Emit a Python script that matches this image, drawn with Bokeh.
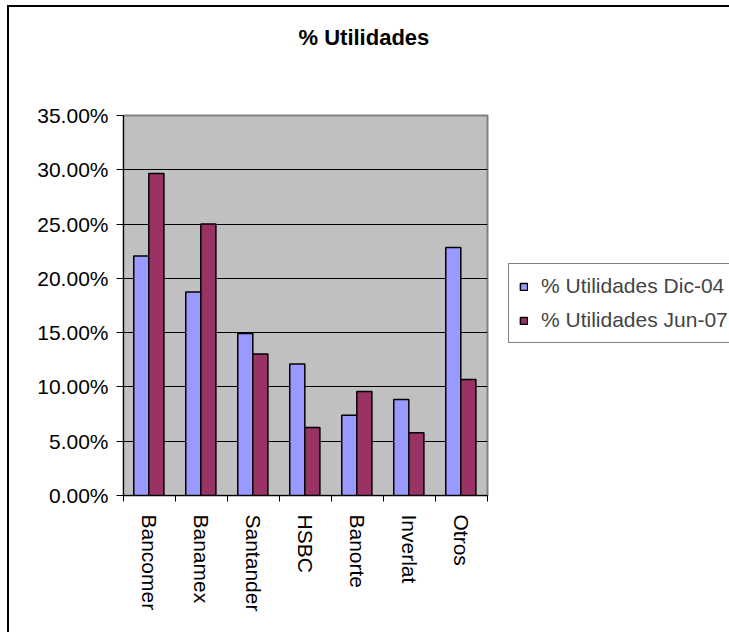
import numpy as np
from bokeh.plotting import figure
from bokeh.models import (Range1d, FixedTicker, NumeralTickFormatter, Legend,
                          LegendItem, ColumnDataSource)
from bokeh.embed import file_html
from bokeh.resources import INLINE

# ---- data ----
categories = ["Bancomer", "Banamex", "Santander", "HSBC", "Banorte", "Inverlat", "Otros"]
dic04 = [0.2207, 0.1875, 0.1492, 0.1212, 0.0740, 0.0884, 0.2284]
jun07 = [0.2966, 0.2500, 0.1304, 0.0626, 0.0958, 0.0577, 0.1068]
series_names = ["% Utilidades Dic-04", "% Utilidades Jun-07"]
y_ticks = [0.0, 0.05, 0.10, 0.15, 0.20, 0.25, 0.30, 0.35]
title_text = "% Utilidades"

FONT = "Liberation Sans"
idx = np.arange(len(categories))
bar_w = 0.29

src1 = ColumnDataSource(dict(x=idx - 0.158, top=dic04))
src2 = ColumnDataSource(dict(x=idx + 0.132, top=jun07))

p = figure(frame_width=364, frame_height=380,
           min_border_left=114, min_border_right=242,
           min_border_top=108, min_border_bottom=137,
           x_range=Range1d(-0.5, len(categories) - 0.5),
           y_range=Range1d(0, 0.35),
           output_backend="svg", toolbar_location=None,
           background_fill_color="#C0C0C0", border_fill_color="white")
p.styles = {"margin-left": "7px", "margin-top": "5px",
            "border-left": "2px solid black", "border-top": "2px solid black"}

r1 = p.vbar(x="x", top="top", width=bar_w, bottom=0, source=src1,
            fill_color="#9999FF", line_color="black", line_width=1.5)
r2 = p.vbar(x="x", top="top", width=bar_w, bottom=0, source=src2,
            fill_color="#993366", line_color="black", line_width=1.5)

# title (two blank lines below it lift it well above the plot area)
p.title.text = title_text + "\n\u00a0\n\u00a0"
p.title.text_font = FONT
p.title.text_font_size = "22px"
p.title.text_font_style = "bold"
p.title.text_color = "black"
p.title.align = "left"
p.title.offset = 175
p.title.vertical_align = "top"
p.title.standoff = 28

# outline
p.outline_line_color = "#808080"
p.outline_line_width = 2

# grids
p.xgrid.visible = False
p.ygrid.ticker = FixedTicker(ticks=y_ticks[1:-1])
p.ygrid.grid_line_color = "black"
p.ygrid.grid_line_width = 1

# y axis
yax = p.yaxis[0]
yax.ticker = FixedTicker(ticks=y_ticks)
yax.formatter = NumeralTickFormatter(format="0.00%")
yax.major_tick_out = 7
yax.major_tick_in = 0
yax.minor_tick_out = 0
yax.minor_tick_in = 0
yax.major_label_standoff = 8
yax.major_label_text_font = FONT
yax.major_label_text_font_size = "21px"
yax.major_label_text_color = "black"
yax.axis_line_color = "black"
yax.major_tick_line_color = "black"

# x axis
xax = p.xaxis[0]
xax.ticker = FixedTicker(ticks=list(idx), minor_ticks=list(np.arange(len(categories) + 1) - 0.5))
xax.major_label_overrides = {int(i): c for i, c in zip(idx, categories)}
xax.major_tick_out = 0
xax.major_tick_in = 0
xax.minor_tick_out = 6
xax.minor_tick_in = 0
xax.minor_tick_line_color = "black"
xax.major_label_orientation = "vertical"
xax.major_label_standoff = 13
xax.major_label_text_font = FONT
xax.major_label_text_font_size = "21px"
xax.major_label_text_color = "black"
xax.axis_line_color = "black"

# legend
legend = Legend(items=[LegendItem(label=series_names[0], renderers=[r1]),
                       LegendItem(label=series_names[1], renderers=[r2])],
                location=(21, 152), margin=0, padding=10, spacing=10,
                label_height=21, glyph_height=9, glyph_width=9,
                label_standoff=13, label_text_font=FONT,
                label_text_font_size="21px", border_line_color="black",
                border_line_width=1, background_fill_color="white",
                background_fill_alpha=1.0)
p.add_layout(legend, "right")

open("out.html", "w").write(file_html(p, INLINE))
